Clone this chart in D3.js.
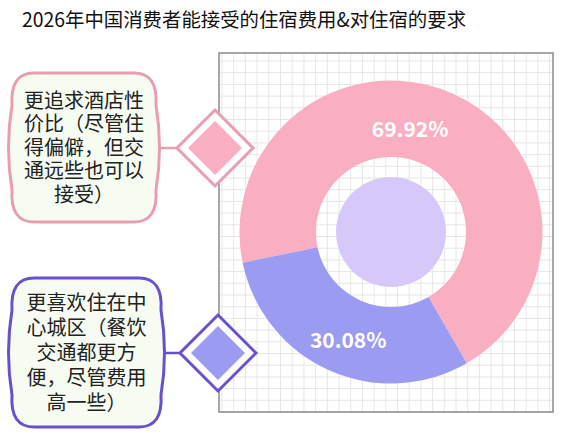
<!DOCTYPE html>
<html>
<head>
<meta charset="utf-8">
<script src="https://d3js.org/d3.v7.min.js"></script>
<style>
  body { margin: 0; background: #fff; }
  text { font-family: "Noto Sans CJK SC", "Noto Sans", sans-serif; }
  text.box-label { font-family: "Liberation Sans", "Noto Sans CJK SC", sans-serif; }
</style>
</head>
<body>
<script>
  var title = "2026年中国消费者能接受的住宿费用&对住宿的要求";
  var categories = [
    ["更追求酒店性", "价比（尽管住", "得偏僻，但交", "通远些也可以", "接受）"],
    ["更喜欢住在中", "心城区（餐饮", "交通都更方", "便，尽管费用", "高一些）"]
  ];
  var values = [69.92, 30.08];
  var colors = ["#f9afc1", "#9b9bf2"];
  var borders = ["#e99db1", "#6a4fcf"];

  var w = 569, h = 442;
  var svg = d3.select("body").append("svg")
    .attr("width", w)
    .attr("height", h);

  svg.append("text")
    .attr("x", 22)
    .attr("y", 27)
    .attr("font-size", 19.4)
    .attr("fill", "#111")
    .text(title);

  // grid panel
  var gx0 = 219, gy0 = 53, gx1 = 553, gy1 = 412, step = 11.7;
  var grid = svg.append("g");
  d3.range(gx0 + 3, gx1, step).forEach(function(x) {
    grid.append("line").attr("x1", x).attr("x2", x).attr("y1", gy0).attr("y2", gy1)
      .attr("stroke", "#e6e6e6").attr("stroke-width", 1);
  });
  d3.range(gy0 + 8, gy1, step).forEach(function(y) {
    grid.append("line").attr("x1", gx0).attr("x2", gx1).attr("y1", y).attr("y2", y)
      .attr("stroke", "#e6e6e6").attr("stroke-width", 1);
  });
  svg.append("rect")
    .attr("x", gx0).attr("y", gy0)
    .attr("width", gx1 - gx0).attr("height", gy1 - gy0)
    .attr("fill", "none").attr("stroke", "#8a8a8a").attr("stroke-width", 1.5);

  // donut
  var cx = 391, cy = 232;
  var pie = d3.pie().sort(null)
    .startAngle(-1.775)
    .endAngle(-1.775 + 2 * Math.PI);
  var arcs = pie(values);
  var arc = d3.arc().innerRadius(75).outerRadius(151.5);
  var donut = svg.append("g").attr("transform", "translate(" + cx + "," + cy + ")");

  donut.selectAll("path.slice")
    .data(arcs)
    .enter()
    .append("path")
    .attr("class", "slice")
    .attr("d", arc)
    .attr("fill", function(d, i) { return colors[i]; });

  donut.append("circle").attr("r", 55).attr("fill", "#d7c8fa");

  var labelShift = [-0.24, -0.04];
  var labelR = [106, 115];
  donut.selectAll("text.pct")
    .data(arcs)
    .enter()
    .append("text")
    .attr("class", "pct")
    .attr("x", function(d, i) {
      var a = (d.startAngle + d.endAngle) / 2 + labelShift[i];
      return Math.sin(a) * labelR[i];
    })
    .attr("y", function(d, i) {
      var a = (d.startAngle + d.endAngle) / 2 + labelShift[i];
      return -Math.cos(a) * labelR[i];
    })
    .attr("text-anchor", "middle")
    .attr("dominant-baseline", "central")
    .attr("font-family", "'Open Sans', 'Noto Sans', sans-serif")
    .attr("font-weight", "bold")
    .attr("font-size", 21)
    .attr("fill", "#fff")
    .text(function(d) { return d.data.toFixed(2) + "%"; });

  // callouts
  var boxes = [
    { x0: 10, x1: 158, y0: 73, y1: 222, dy: 23.5 },
    { x0: 10, x1: 163, y0: 278, y1: 427, dy: 25 }
  ];
  var diamonds = [{ x: 215, y: 148 }, { x: 218, y: 353 }];

  function boxPath(b) {
    var r = 24, bulge = 5;
    var p = d3.path();
    p.moveTo(b.x0 + r, b.y0);
    p.lineTo(b.x1 - r, b.y0);
    p.quadraticCurveTo(b.x1, b.y0, b.x1 - 2, b.y0 + r + 8);
    p.quadraticCurveTo(b.x1 + bulge, (b.y0 + b.y1) / 2, b.x1 - 2, b.y1 - r - 8);
    p.quadraticCurveTo(b.x1, b.y1, b.x1 - r, b.y1);
    p.lineTo(b.x0 + r, b.y1);
    p.quadraticCurveTo(b.x0, b.y1, b.x0 + 2, b.y1 - r - 8);
    p.quadraticCurveTo(b.x0 - bulge, (b.y0 + b.y1) / 2, b.x0 + 2, b.y0 + r + 8);
    p.quadraticCurveTo(b.x0, b.y0, b.x0 + r, b.y0);
    p.closePath();
    return p.toString();
  }

  categories.forEach(function(lines, i) {
    var b = boxes[i], d = diamonds[i];
    var g = svg.append("g");
    var my = (b.y0 + b.y1) / 2;

    g.append("line")
      .attr("x1", b.x1).attr("x2", d.x - 38)
      .attr("y1", d.y).attr("y2", d.y)
      .attr("stroke", borders[i]).attr("stroke-width", 2.5);

    g.append("path")
      .attr("d", boxPath(b))
      .attr("fill", "#f6fcf1")
      .attr("stroke", borders[i])
      .attr("stroke-width", 3);

    var cxBox = (b.x0 + b.x1) / 2;
    lines.forEach(function(t, j) {
      g.append("text")
        .attr("class", "box-label")
        .attr("x", cxBox)
        .attr("y", my + (j - (lines.length - 1) / 2) * b.dy + 7)
        .attr("text-anchor", "middle")
        .attr("font-size", 20)
        .attr("fill", "#222")
        .text(t);
    });

    var s = 38, si = 27;
    g.append("path")
      .attr("d", "M" + d.x + "," + (d.y - s) + "L" + (d.x + s) + "," + d.y +
                 "L" + d.x + "," + (d.y + s) + "L" + (d.x - s) + "," + d.y + "Z")
      .attr("fill", "#fff")
      .attr("stroke", borders[i])
      .attr("stroke-width", 3);
    g.append("path")
      .attr("d", "M" + d.x + "," + (d.y - si) + "L" + (d.x + si) + "," + d.y +
                 "L" + d.x + "," + (d.y + si) + "L" + (d.x - si) + "," + d.y + "Z")
      .attr("fill", colors[i]);
  });
</script>
</body>
</html>
